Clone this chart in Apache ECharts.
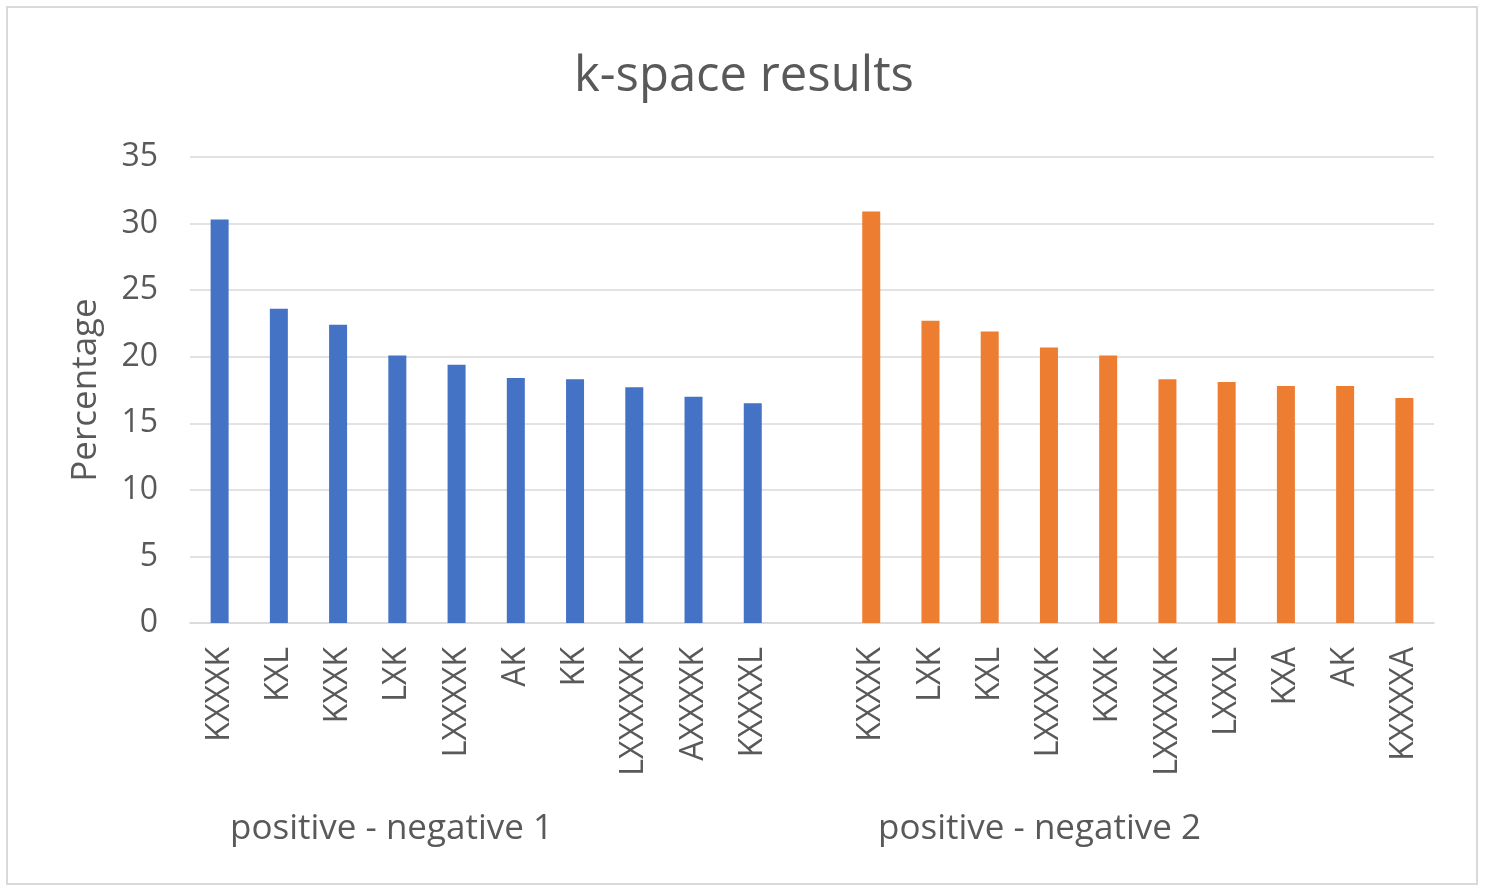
<!DOCTYPE html>
<html>
<head>
<meta charset="utf-8">
<script src="https://cdn.jsdelivr.net/npm/echarts@6/dist/echarts.min.js"></script>
<style>
  html, body { margin: 0; padding: 0; background: #fff; }
  #frame { position: absolute; left: 6px; top: 6px; width: 1472px; height: 879px; border: 2px solid #d9d9d9; box-sizing: border-box; }
  #chart { position: absolute; left: 0; top: 0; width: 1488px; height: 890px; }
</style>
</head>
<body>
<div id="frame"></div>
<div id="chart"></div>
<script>
// group 1: positive - negative 1
const group1Name = 'positive - negative 1';
const group1Labels = ['KXXXK', 'KXL', 'KXXK', 'LXK', 'LXXXXK', 'AK', 'KK', 'LXXXXXK', 'AXXXXK', 'KXXXXL'];
const group1Values = [30.3, 23.6, 22.4, 20.1, 19.4, 18.4, 18.3, 17.7, 17.0, 16.5];

// group 2: positive - negative 2
const group2Name = 'positive - negative 2';
const group2Labels = ['KXXXK', 'LXK', 'KXL', 'LXXXXK', 'KXXK', 'LXXXXXK', 'LXXXL', 'KXA', 'AK', 'KXXXXA'];
const group2Values = [30.9, 22.7, 21.9, 20.7, 20.1, 18.3, 18.1, 17.8, 17.8, 16.9];

const yTicks = { min: 0, max: 35, interval: 5 };

// one empty slot between the two groups, like the Excel multi-level axis
const categories = [...group1Labels, '', ...group2Labels];
const pad = n => Array(n).fill('-');
const series1 = [...group1Values, ...pad(1 + group2Values.length)];
const series2 = [...pad(group1Values.length + 1), ...group2Values];

const textColor = '#595959';
const fontFamily = '"Open Sans", "Noto Sans", sans-serif';

const chart = echarts.init(document.getElementById('chart'), null, { renderer: 'canvas' });

chart.setOption({
  backgroundColor: 'transparent',
  animation: false,
  title: {
    text: 'k-space results',
    left: 'center',
    top: 48,
    textStyle: { color: textColor, fontSize: 49, fontWeight: 'normal', fontFamily }
  },
  grid: { left: 190, right: 54, top: 157, bottom: 267 },
  xAxis: {
    type: 'category',
    data: categories,
    axisLine: { lineStyle: { color: '#d9d9d9', width: 1.5 } },
    axisTick: { show: false },
    axisLabel: { rotate: 90, interval: 0, margin: 24, color: textColor, fontSize: 32, fontFamily }
  },
  yAxis: {
    type: 'value',
    min: yTicks.min,
    max: yTicks.max,
    interval: yTicks.interval,
    name: 'Percentage',
    nameLocation: 'middle',
    nameGap: 86,
    nameTextStyle: { color: textColor, fontSize: 35, fontFamily },
    axisLine: { show: false },
    axisTick: { show: false },
    axisLabel: { margin: 32, color: textColor, fontSize: 32, fontFamily },
    splitLine: { lineStyle: { color: '#d9d9d9', width: 1.5 } }
  },
  series: [
    {
      name: group1Name,
      type: 'bar',
      stack: 'all',
      barWidth: 18,
      itemStyle: { color: '#4472C4' },
      data: series1
    },
    {
      name: group2Name,
      type: 'bar',
      stack: 'all',
      barWidth: 18,
      itemStyle: { color: '#ED7D31' },
      data: series2
    }
  ],
  graphic: [
    {
      type: 'text', left: 230, top: 812,
      style: { text: group1Name, fill: textColor, fontSize: 35, fontFamily }
    },
    {
      type: 'text', left: 878, top: 812,
      style: { text: group2Name, fill: textColor, fontSize: 35, fontFamily }
    }
  ]
});

window.addEventListener('resize', () => chart.resize());
</script>
</body>
</html>
